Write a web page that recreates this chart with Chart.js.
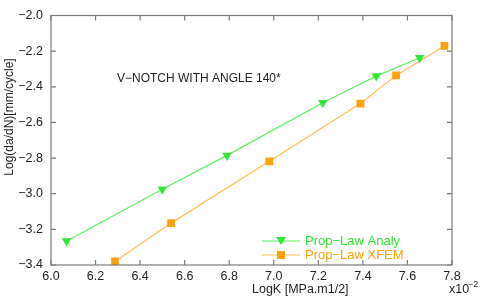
<!DOCTYPE html>
<html>
<head>
<meta charset="utf-8">
<script src="https://cdn.jsdelivr.net/npm/chart.js@4/dist/chart.umd.min.js"></script>
<style>
  html, body { margin: 0; padding: 0; background: #fff; }
  #wrap { width: 480px; height: 299px; position: relative; }
</style>
</head>
<body>
<div id="wrap"><canvas id="myChart" width="480" height="299"></canvas></div>
<script>
// data (x in units of 1e-2)
var analyX = [6.07, 6.50, 6.79, 7.22, 7.46, 7.655];
var analyY = [-3.265, -2.975, -2.785, -2.49, -2.34, -2.237];
var xfemX = [6.287, 6.539, 6.98, 7.389, 7.549, 7.766];
var xfemY = [-3.38, -3.165, -2.818, -2.494, -2.336, -2.171];
var xTicks = [6.0, 6.2, 6.4, 6.6, 6.8, 7.0, 7.2, 7.4, 7.6, 7.8];
var yTicks = [-3.4, -3.2, -3.0, -2.8, -2.6, -2.4, -2.2, -2.0];
var seriesNames = ["Prop\u2212Law Analy", "Prop\u2212Law XFEM"];

var green = "#33e833";
var greenLine = "#5cf05c";
var orange = "#ffa20a";
var orangeLine = "#ffbd55";
var font = "'Liberation Sans', Arial, sans-serif";

function pts(xs, ys) {
  return xs.map(function(x, i) { return { x: x, y: ys[i] }; });
}
function minus(v) {
  return v.toFixed(1).replace("-", "\u2212");
}

// frame, inner ticks, titles and legend
var decor = {
  id: "decor",
  afterDraw: function(chart) {
    var ctx = chart.ctx;
    var a = chart.chartArea;
    var xs = chart.scales.x, ys = chart.scales.y;
    ctx.save();
    ctx.strokeStyle = "#7a7a7a";
    ctx.lineWidth = 1.2;
    ctx.strokeRect(a.left, a.top, a.right - a.left, a.bottom - a.top);
    ctx.beginPath();
    xTicks.forEach(function(t) {
      var px = xs.getPixelForValue(t);
      ctx.moveTo(px, a.bottom); ctx.lineTo(px, a.bottom - 5);
      ctx.moveTo(px, a.top); ctx.lineTo(px, a.top + 5);
    });
    yTicks.forEach(function(t) {
      var py = ys.getPixelForValue(t);
      ctx.moveTo(a.left, py); ctx.lineTo(a.left + 5, py);
      ctx.moveTo(a.right, py); ctx.lineTo(a.right - 5, py);
    });
    ctx.stroke();

    ctx.fillStyle = "#222";
    ctx.font = "12px " + font;
    ctx.textBaseline = "middle";
    ctx.textAlign = "left";
    ctx.fillText("V\u2212NOTCH WITH ANGLE 140*", 117, 79);

    ctx.font = "12.5px " + font;
    ctx.fillText("LogK [MPa.m1/2]", 252, 290);
    ctx.fillText("x10", 449, 290);
    ctx.font = "9px " + font;
    ctx.fillText("\u22122", 468, 285);

    ctx.save();
    ctx.translate(10, 117);
    ctx.rotate(-Math.PI / 2);
    ctx.textAlign = "center";
    ctx.font = "12px " + font;
    ctx.fillText("Log(da/dN)[mm/cycle]", 0, 0);
    ctx.restore();

    // legend
    var rows = [
      { name: seriesNames[0], color: green, line: greenLine, y: 241, tri: true },
      { name: seriesNames[1], color: orange, line: orangeLine, y: 255, tri: false }
    ];
    ctx.font = "13px " + font;
    rows.forEach(function(r) {
      ctx.strokeStyle = r.line;
      ctx.lineWidth = 1.2;
      ctx.beginPath();
      ctx.moveTo(262, r.y); ctx.lineTo(300, r.y);
      ctx.stroke();
      ctx.fillStyle = r.color;
      ctx.beginPath();
      if (r.tri) {
        ctx.moveTo(276, r.y - 4); ctx.lineTo(286, r.y - 4); ctx.lineTo(281, r.y + 4);
        ctx.closePath();
        ctx.fill();
      } else {
        ctx.fillRect(277, r.y - 4, 8, 8);
      }
      ctx.fillText(r.name, 305, r.y);
    });
    ctx.restore();
  }
};

var ctx = document.getElementById("myChart").getContext("2d");
var chart = new Chart(ctx, {
  type: "scatter",
  data: {
    datasets: [
      {
        label: seriesNames[0],
        data: pts(analyX, analyY),
        showLine: true,
        borderColor: greenLine,
        borderWidth: 1.2,
        backgroundColor: green,
        pointBorderColor: green,
        pointStyle: "triangle",
        rotation: 180,
        pointRadius: 5.5,
        pointBorderWidth: 0
      },
      {
        label: seriesNames[1],
        data: pts(xfemX, xfemY),
        showLine: true,
        borderColor: orangeLine,
        borderWidth: 1.2,
        backgroundColor: orange,
        pointBorderColor: orange,
        pointStyle: "rect",
        pointRadius: 5.5,
        pointBorderWidth: 0
      }
    ]
  },
  options: {
    responsive: false,
    animation: false,
    layout: { padding: { left: 0, right: 28, top: 11, bottom: 0 } },
    plugins: { legend: { display: false }, tooltip: { enabled: false } },
    scales: {
      x: {
        type: "linear",
        min: 6.0, max: 7.8,
        afterFit: function(s) { s.height = 34; },
        afterBuildTicks: function(s) { s.ticks = xTicks.map(function(v) { return { value: v }; }); },
        grid: { display: false, drawTicks: false },
        border: { display: false },
        ticks: {
          padding: 4,
          color: "#222",
          font: { family: font, size: 12.5 },
          callback: function(v) { return minus(v); }
        }
      },
      y: {
        type: "linear",
        min: -3.4, max: -2.0,
        afterFit: function(s) { s.width = 51; },
        afterBuildTicks: function(s) { s.ticks = yTicks.map(function(v) { return { value: v }; }); },
        grid: { display: false, drawTicks: false },
        border: { display: false },
        ticks: {
          padding: 8,
          color: "#222",
          font: { family: font, size: 12.5 },
          callback: function(v) { return minus(v); }
        }
      }
    }
  },
  plugins: [decor]
});
</script>
</body>
</html>
